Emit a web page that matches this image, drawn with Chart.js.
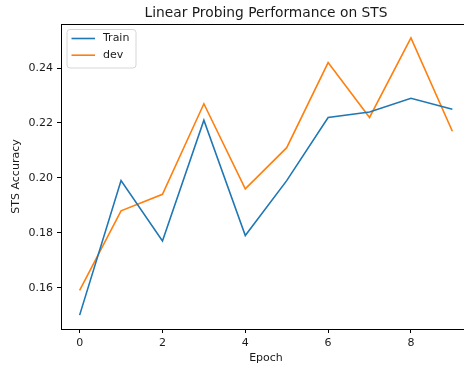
<!DOCTYPE html>
<html>
<head>
<meta charset="utf-8">
<script src="https://cdn.jsdelivr.net/npm/chart.js@4/dist/chart.umd.min.js"></script>
<style>
  html, body { margin: 0; padding: 0; overflow: hidden; background: #fff; }
  canvas { display: block; }
</style>
</head>
<body>
<canvas id="chart" width="532" height="370"></canvas>
<script>
// Per-epoch STS accuracy for the linear probe
const epochs = [0, 1, 2, 3, 4, 5, 6, 7, 8, 9];
const trainAcc = [0.150, 0.199, 0.177, 0.221, 0.179, 0.199, 0.222, 0.224, 0.229, 0.225];
const devAcc = [0.159, 0.188, 0.194, 0.227, 0.196, 0.211, 0.242, 0.222, 0.251, 0.217];
const seriesNames = ['Train', 'dev'];
const xTicks = [0, 2, 4, 6, 8];
const yTicks = [0.16, 0.18, 0.20, 0.22, 0.24];

const FONT = 'DejaVu Sans';
const TEXT = '#1a1a1a';

// Axis limits with a 5% margin around the data
const allY = trainAcc.concat(devAcc);
const yLo = Math.min(...allY), yHi = Math.max(...allY);
const yPad = (yHi - yLo) * 0.05;
const xPad = (epochs[epochs.length - 1] - epochs[0]) * 0.05;

const toPoints = vals => vals.map((v, i) => ({ x: epochs[i], y: v }));

// Axes frame (all four spines)
const framePlugin = {
  id: 'frame',
  afterDraw(chart) {
    const { ctx, chartArea: a } = chart;
    ctx.save();
    ctx.strokeStyle = '#000';
    ctx.lineWidth = 1;
    ctx.strokeRect(Math.round(a.left) + 0.5, Math.round(a.top) + 0.5,
                   Math.round(a.right - a.left), Math.round(a.bottom - a.top));
    ctx.restore();
  }
};

// Title centred over the plotting area
const titlePlugin = {
  id: 'axesTitle',
  afterDraw(chart) {
    const { ctx, chartArea: a } = chart;
    ctx.save();
    ctx.font = `13.8px "${FONT}"`;
    ctx.fillStyle = TEXT;
    ctx.textAlign = 'center';
    ctx.textBaseline = 'alphabetic';
    ctx.fillText('Linear Probing Performance on STS', (a.left + a.right) / 2, a.top - 7);
    ctx.restore();
  }
};

// Boxed legend in the upper-left corner of the plot
const legendPlugin = {
  id: 'boxLegend',
  afterDatasetsDraw(chart) {
    const { ctx, chartArea: a } = chart;
    const x0 = a.left + 6, y0 = a.top + 5.5;
    const w = 69, h = 38.5, r = 3;
    ctx.save();
    ctx.beginPath();
    ctx.roundRect(x0, y0, w, h, r);
    ctx.fillStyle = 'rgba(255,255,255,0.8)';
    ctx.fill();
    ctx.strokeStyle = '#d6d6d6';
    ctx.lineWidth = 1;
    ctx.stroke();
    ctx.font = `11px "${FONT}"`;
    ctx.textBaseline = 'middle';
    ctx.textAlign = 'left';
    chart.data.datasets.forEach((ds, i) => {
      const y = y0 + 9 + i * 16.7;
      ctx.beginPath();
      ctx.moveTo(x0 + 4.5, y);
      ctx.lineTo(x0 + 28, y);
      ctx.strokeStyle = ds.borderColor;
      ctx.lineWidth = 1.6;
      ctx.stroke();
      ctx.fillStyle = TEXT;
      ctx.fillText(ds.label, x0 + 36, y);
    });
    ctx.restore();
  }
};

const axisCommon = {
  grid: { display: true, drawOnChartArea: false, drawTicks: true, tickLength: 4, color: '#000', lineWidth: 1 },
  border: { display: true, color: '#000', width: 1 },
};

new Chart(document.getElementById('chart'), {
  type: 'line',
  data: {
    datasets: [
      { label: seriesNames[0], data: toPoints(trainAcc), borderColor: '#1f77b4', backgroundColor: '#1f77b4',
        borderWidth: 1.6, pointRadius: 0, tension: 0, fill: false },
      { label: seriesNames[1], data: toPoints(devAcc), borderColor: '#ff7f0e', backgroundColor: '#ff7f0e',
        borderWidth: 1.6, pointRadius: 0, tension: 0, fill: false }
    ]
  },
  options: {
    responsive: false,
    devicePixelRatio: 1,
    animation: false,
    events: [],
    layout: { padding: { top: 24, right: 61, left: 0, bottom: 0 } },
    plugins: { legend: { display: false }, title: { display: false }, tooltip: { enabled: false } },
    scales: {
      x: {
        type: 'linear',
        min: epochs[0] - xPad,
        max: epochs[epochs.length - 1] + xPad,
        ...axisCommon,
        afterBuildTicks: s => { s.ticks = xTicks.map(v => ({ value: v })); },
        afterFit: s => { s.height = 41; },
        ticks: { padding: 4, color: TEXT, font: { family: FONT, size: 11 }, maxRotation: 0,
                 callback: v => String(v) },
        title: { display: true, text: 'Epoch', color: TEXT, font: { family: FONT, size: 11 },
                 padding: { top: 0, bottom: 5 } }
      },
      y: {
        type: 'linear',
        min: yLo - yPad,
        max: yHi + yPad,
        ...axisCommon,
        afterBuildTicks: s => { s.ticks = yTicks.map(v => ({ value: v })); },
        afterFit: s => { s.width = 61; },
        ticks: { padding: 4, color: TEXT, font: { family: FONT, size: 11 },
                 callback: v => v.toFixed(2) },
        title: { display: true, text: 'STS Accuracy', color: TEXT, font: { family: FONT, size: 11 },
                 padding: { top: 10, bottom: 0 } }
      }
    }
  },
  plugins: [framePlugin, titlePlugin, legendPlugin]
});
</script>
</body>
</html>
